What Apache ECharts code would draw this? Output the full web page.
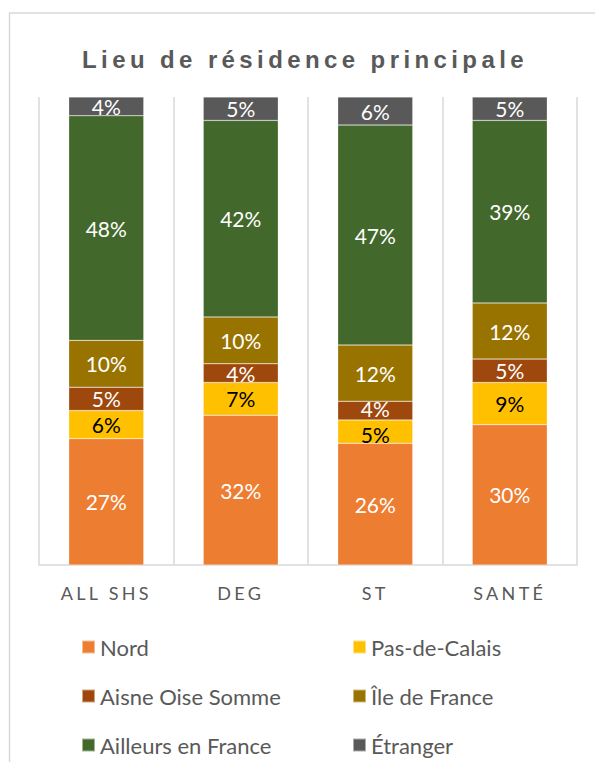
<!DOCTYPE html>
<html>
<head>
<meta charset="utf-8">
<style>
  html, body { margin: 0; padding: 0; background: #ffffff; }
  #chart { width: 595px; height: 762px; }
</style>
<script src="https://cdn.jsdelivr.net/npm/echarts@6/dist/echarts.min.js"></script>
</head>
<body>
<div id="chart"></div>
<script>
const titleText = 'Lieu de résidence principale';
const categories = ['ALL SHS', 'DEG', 'ST', 'SANTÉ'];
const nord = [27, 32, 26, 30];
const pasDeCalais = [6, 7, 5, 9];
const aisneOiseSomme = [5, 4, 4, 5];
const ileDeFrance = [10, 10, 12, 12];
const ailleursEnFrance = [48, 42, 47, 39];
const etranger = [4, 5, 6, 5];

const seriesDefs = [
  { name: 'Nord', data: nord, color: '#ED7D31', label: '#ffffff' },
  { name: 'Pas-de-Calais', data: pasDeCalais, color: '#FFC000', label: '#000000' },
  { name: 'Aisne Oise Somme', data: aisneOiseSomme, color: '#9E480E', label: '#ffffff' },
  { name: 'Île de France', data: ileDeFrance, color: '#997300', label: '#ffffff' },
  { name: 'Ailleurs en France', data: ailleursEnFrance, color: '#43682B', label: '#ffffff' },
  { name: 'Étranger', data: etranger, color: '#595959', label: '#ffffff' }
];

// small vertical nudges for tightly packed labels (style only)
function labelNudge(seriesIdx, catIdx) {
  if (catIdx === 2 && seriesIdx === 1) return 2.5;   // ST, Pas-de-Calais: down
  if (catIdx === 2 && seriesIdx === 2) return -2.5;  // ST, Aisne Oise Somme: up
  return 0;
}

const chart = echarts.init(document.getElementById('chart'), null, { renderer: 'svg' });

const legendText = { fontFamily: 'Lato', fontSize: 22, color: '#595959', lineHeight: 22 };

const option = {
  animation: false,
  backgroundColor: '#ffffff',
  graphic: [{
    type: 'rect',
    silent: true,
    z: -10,
    shape: { x: 9.5, y: 13, width: 700, height: 800 },
    style: { fill: 'none', stroke: '#d9d9d9', lineWidth: 1.5 }
  }],
  title: {
    text: titleText,
    left: 82,
    top: 47,
    padding: 0,
    textStyle: { fontFamily: 'Liberation Sans', fontSize: 24, fontWeight: 'bold', color: '#595959' }
  },
  legend: [
    {
      orient: 'vertical',
      left: 81,
      top: 636,
      padding: 0,
      itemGap: 27,
      itemWidth: 13,
      itemHeight: 13,
      icon: 'rect',
      data: ['Nord', 'Aisne Oise Somme', 'Ailleurs en France'],
      textStyle: legendText,
      selectedMode: false
    },
    {
      orient: 'vertical',
      left: 352,
      top: 636,
      padding: 0,
      itemGap: 27,
      itemWidth: 13,
      itemHeight: 13,
      icon: 'rect',
      data: ['Pas-de-Calais', 'Île de France', 'Étranger'],
      textStyle: legendText,
      selectedMode: false
    }
  ],
  grid: { left: 39, right: 18, top: 97, bottom: 197, containLabel: false },
  xAxis: {
    type: 'category',
    data: categories,
    boundaryGap: true,
    axisLine: { show: true, lineStyle: { color: '#d9d9d9', width: 1.5 } },
    axisTick: { show: false },
    splitLine: { show: true, lineStyle: { color: '#d9d9d9', width: 1.5 } },
    axisLabel: { margin: 19, fontFamily: 'Lato', fontSize: 18, color: '#595959' }
  },
  yAxis: {
    type: 'value',
    min: 0,
    max: 100,
    show: false,
    splitLine: { show: false }
  },
  series: seriesDefs.map((s, si) => ({
    name: s.name,
    type: 'bar',
    stack: 'total',
    barWidth: 75,
    data: s.data.map((v, ci) => {
      const n = labelNudge(si, ci);
      return n ? { value: v, label: { offset: [0, n] } } : v;
    }),
    itemStyle: { color: s.color, borderColor: 'rgba(255,255,255,0.5)', borderWidth: 0.5 },
    label: {
      show: true,
      position: 'inside',
      formatter: '{c}%',
      fontFamily: 'Lato',
      fontSize: 21,
      lineHeight: 16,
      color: s.label
    },
    emphasis: { disabled: true }
  }))
};

chart.setOption(option);

function applySpacing() {
  const texts = document.querySelectorAll('#chart text');
  texts.forEach(t => {
    const c = t.textContent;
    if (c === titleText) {
      t.setAttribute('letter-spacing', '4.4');
    } else if (categories.indexOf(c) >= 0) {
      t.setAttribute('letter-spacing', '3.3');
    }
  });
}
chart.on('finished', applySpacing);
applySpacing();
setTimeout(applySpacing, 50);
setTimeout(applySpacing, 300);
</script>
</body>
</html>
